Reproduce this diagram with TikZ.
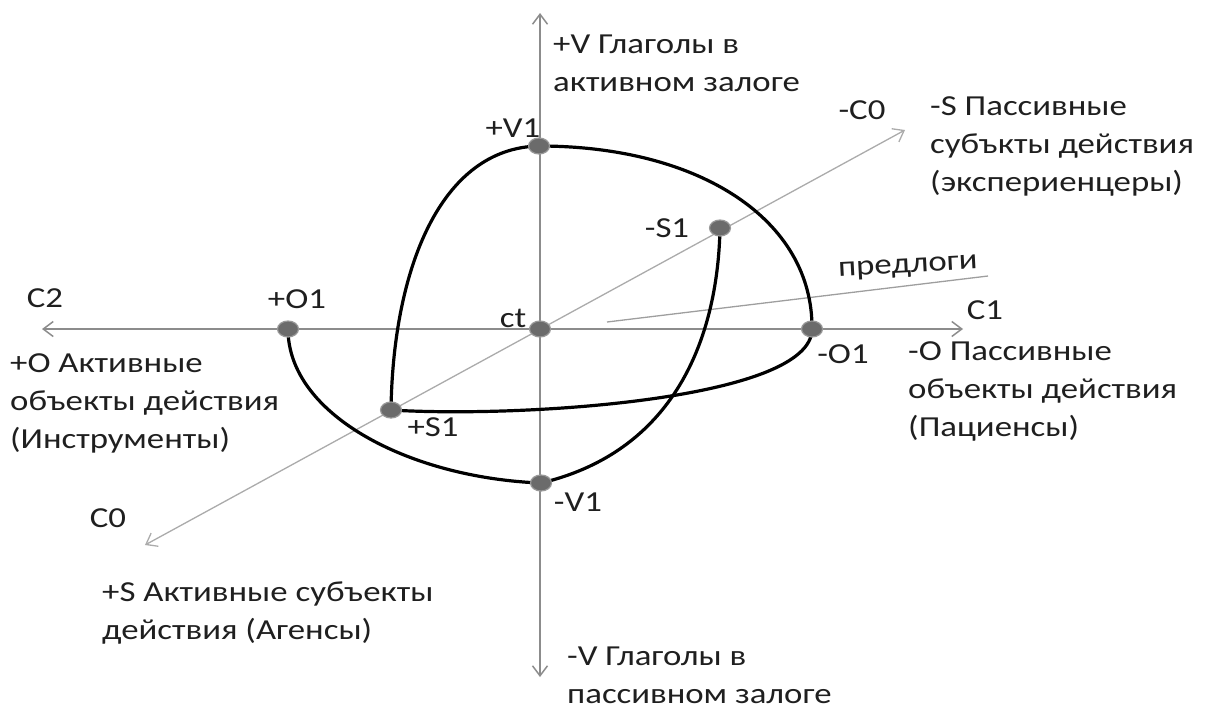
\documentclass[tikz,border=0pt]{standalone}
\usepackage{fontspec}
\setmainfont{Carlito}[FakeStretch=1.2]
\usetikzlibrary{arrows.meta, shapes.geometric}
\tikzset{
    % Axes
    axis/.style = {draw=black!45, line width=1.5pt,
        {Straight Barb[length=10pt, width=15pt]}-{Straight Barb[length=10pt, width=15pt]}},
    diag/.style = {axis, draw=black!33, line width=1.3pt},
    prep/.style = {draw=black!38, line width=1.3pt},
    % Curves and points
    curve/.style = {draw=black, line width=3.2pt},
    dot/.style   = {ellipse, fill=black!58, draw=black!40, line width=1.2pt,
        minimum width=21pt, minimum height=16pt, inner sep=0pt},
    % Texts
    lbl/.style  = {font=\fontsize{29}{38}\selectfont, inner sep=0pt, text=black!88},
    desc/.style = {lbl, align=left, anchor=west}
}
\begin{document}
\begin{tikzpicture}[x=1pt, y=-1pt]
    \useasboundingbox (0,0) rectangle (1206,710);

    % axis ends
    \coordinate (vtop) at (540,13);
    \coordinate (vbot) at (540,677);
    \coordinate (hleft) at (42,329);
    \coordinate (hright) at (963,329);
    \coordinate (dtop) at (905,130);
    \coordinate (dbot) at (145,545);
    \coordinate (pstart) at (607,322);
    \coordinate (pend) at (988,276);

    % points
    \coordinate (ct) at (540,329);
    \coordinate (V1p) at (539,146);
    \coordinate (V1m) at (541,483);
    \coordinate (O1p) at (288,329);
    \coordinate (O1m) at (812,329);
    \coordinate (S1p) at (391,410);
    \coordinate (S1m) at (720,228);

    \draw [axis] (vbot) -- (vtop);
    \draw [axis] (hleft) -- (hright);
    \draw [diag] (dbot) -- (dtop);
    \draw [prep] (pstart) -- (pend);

    \draw [curve] (V1p) .. controls (440,148) and (393,270) .. (S1p);
    \draw [curve] (V1p) .. controls (700,146) and (813,220) .. (O1m);
    \draw [curve] (O1m) .. controls (812,400) and (520,418) .. (S1p);
    \draw [curve] (S1m) .. controls (718,330) and (680,450) .. (V1m);
    \draw [curve] (O1p) .. controls (288,415) and (410,478) .. (V1m);

    \foreach \p in {ct, V1p, V1m, O1p, O1m, S1p, S1m}
        \node (dot-\p) [dot] at (\p) {};

    % point and axis labels
    \node (lbl-V1p) [lbl] at (513,128) {+V1};
    \node (lbl-S1m) [lbl] at (667,228) {-S1};
    \node (lbl-ct)  [lbl] at (513,318) {ct};
    \node (lbl-O1p) [lbl] at (297,299) {+O1};
    \node (lbl-O1m) [lbl] at (843,354) {-O1};
    \node (lbl-S1p) [lbl] at (433,427) {+S1};
    \node (lbl-V1m) [lbl] at (578,502) {-V1};
    \node (lbl-C2)  [lbl] at (45,298) {C2};
    \node (lbl-C1)  [lbl] at (985,310) {C1};
    \node (lbl-C0m) [lbl] at (862,110) {-C0};
    \node (lbl-C0)  [lbl] at (108,518) {C0};
    \node (lbl-prep) [lbl, rotate=3] at (908,268) {предлоги};

    % axis descriptions
    \node (desc-vp) [desc] at (553,63) {+V Глаголы в\\активном залоге};
    \node (desc-sm) [desc] at (930,146) {-S Пассивные\\субъкты действия\\(экспериенцеры)};
    \node (desc-om) [desc] at (908,391) {-O Пассивные\\объекты действия\\(Пациенсы)};
    \node (desc-op) [desc] at (10,403) {+O Активные\\объекты действия\\(Инструменты)};
    \node (desc-sp) [desc] at (102,613) {+S Активные субъекты\\действия (Агенсы)};
    \node (desc-vm) [desc] at (567,675) {-V Глаголы в\\пассивном залоге};
\end{tikzpicture}
\end{document}
